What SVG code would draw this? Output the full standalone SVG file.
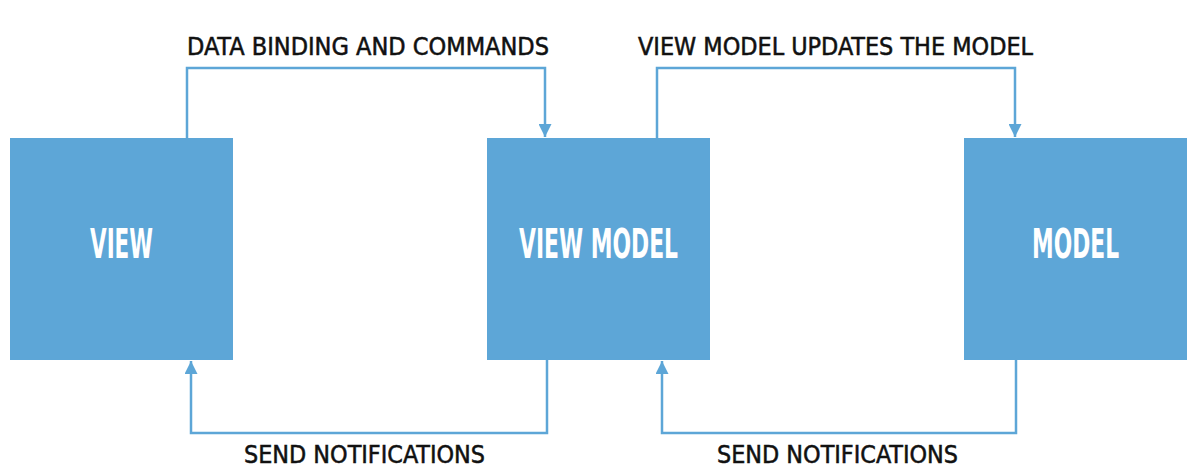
<svg xmlns="http://www.w3.org/2000/svg" width="1196" height="468" viewBox="0 0 1196 468">
<defs>
<style>
.box{fill:#5DA6D7}
.lbl{font-family:"DejaVu Sans Condensed","Liberation Sans",sans-serif;font-weight:bold;font-size:41px;fill:#fff;text-anchor:middle}
.cap{font-family:"DejaVu Sans Condensed","Liberation Sans",sans-serif;font-size:24px;fill:#111;stroke:#111;stroke-width:0.5}
.ln{fill:none;stroke:#5DA6D7;stroke-width:2.5}
</style>
<marker id="ah" viewBox="0 0 10 10" refX="10" refY="5" markerWidth="13" markerHeight="13" markerUnits="userSpaceOnUse" orient="auto">
<path d="M0,0 L10,5 L0,10 z" fill="#5DA6D7"/>
</marker>
</defs>
<rect width="1196" height="468" fill="#fff"/>
<g id="view"><rect class="box" x="10" y="138" width="223" height="222"/><text class="lbl" x="121.5" y="258" textLength="63" lengthAdjust="spacingAndGlyphs">VIEW</text></g>
<g id="viewmodel"><rect class="box" x="487" y="138" width="223" height="222"/><text class="lbl" x="598.5" y="258" textLength="159" lengthAdjust="spacingAndGlyphs">VIEW MODEL</text></g>
<g id="model"><rect class="box" x="964" y="138" width="223" height="222"/><text class="lbl" x="1075.5" y="258" textLength="87" lengthAdjust="spacingAndGlyphs">MODEL</text></g>
<g id="connectors">
<path class="ln" d="M187,138 V68 H545 V137" marker-end="url(#ah)"/>
<path class="ln" d="M657,138 V68 H1015 V137" marker-end="url(#ah)"/>
<path class="ln" d="M547,360 V433 H191 V361" marker-end="url(#ah)"/>
<path class="ln" d="M1016,360 V433 H662 V361" marker-end="url(#ah)"/>
</g>
<g id="labels">
<text class="cap" x="187" y="55" textLength="362" lengthAdjust="spacingAndGlyphs">DATA BINDING AND COMMANDS</text>
<text class="cap" x="638" y="55" textLength="395" lengthAdjust="spacingAndGlyphs">VIEW MODEL UPDATES THE MODEL</text>
<text class="cap" x="244" y="463" textLength="241" lengthAdjust="spacingAndGlyphs">SEND NOTIFICATIONS</text>
<text class="cap" x="717" y="463" textLength="241" lengthAdjust="spacingAndGlyphs">SEND NOTIFICATIONS</text>
</g>
</svg>
